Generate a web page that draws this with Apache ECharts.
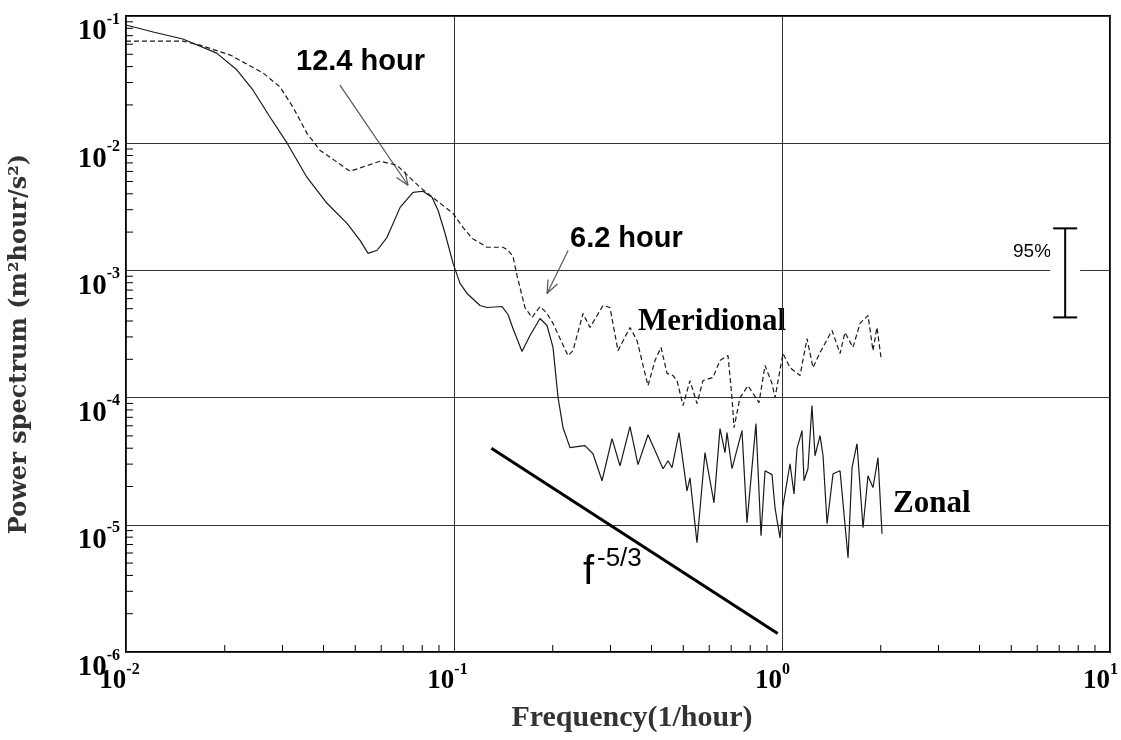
<!DOCTYPE html>
<html>
<head>
<meta charset="utf-8">
<script src="https://cdn.jsdelivr.net/npm/echarts@6/dist/echarts.min.js"></script>
<style>
  html, body { margin: 0; padding: 0; background: #fff; }
  #chart { width: 1121px; height: 740px; }
</style>
</head>
<body>
<div id="chart"></div>
<script>
// [frequency (1/hour), power (m^2 hour / s^2)]
const zonal = [
  [0.0100, 0.0850], [0.0121, 0.0748], [0.0149, 0.0659], [0.0189, 0.0511], [0.0218, 0.0376],
  [0.0244, 0.0261], [0.0275, 0.0160], [0.0310, 0.0100], [0.0356, 5.40e-3], [0.0410, 3.37e-3],
  [0.0472, 2.34e-3], [0.0517, 1.72e-3], [0.0547, 1.36e-3], [0.0583, 1.44e-3], [0.0625, 1.82e-3],
  [0.0685, 3.13e-3], [0.0750, 4.11e-3], [0.0804, 4.19e-3], [0.0857, 3.76e-3], [0.0894, 2.97e-3],
  [0.0939, 1.96e-3], [0.0993, 1.14e-3], [0.1043, 7.90e-4], [0.1096, 6.59e-4], [0.1200, 5.30e-4],
  [0.1261, 5.11e-4], [0.1401, 5.20e-4], [0.1461, 4.50e-4], [0.1513, 3.49e-4], [0.1612, 2.30e-4],
  [0.1705, 3.08e-4], [0.1829, 4.19e-4], [0.1921, 3.69e-4], [0.2004, 2.48e-4], [0.2076, 1.00e-4],
  [0.2150, 5.80e-5], [0.2258, 4.04e-5], [0.2371, 4.11e-5], [0.2508, 4.19e-5], [0.2653, 3.62e-5],
  [0.2827, 2.22e-5], [0.3032, 4.76e-5], [0.3207, 2.91e-5], [0.3440, 5.91e-5], [0.3639, 2.97e-5],
  [0.3904, 5.11e-5], [0.4338, 2.76e-5], [0.4493, 3.19e-5], [0.4620, 2.81e-5], [0.4853, 5.30e-5],
  [0.5133, 1.85e-5], [0.5242, 2.34e-5], [0.5506, 7.22e-6], [0.5824, 3.69e-5], [0.6204, 1.49e-5],
  [0.6471, 5.70e-5], [0.6703, 3.69e-5], [0.6797, 5.30e-5], [0.7040, 2.76e-5], [0.7551, 5.50e-5],
  [0.7821, 1.04e-5], [0.8330, 6.24e-5], [0.8630, 8.19e-6], [0.8876, 2.66e-5], [0.9322, 2.48e-5],
  [0.9521, 1.36e-5], [0.9861, 7.90e-6], [1.007, 1.41e-5], [1.058, 3.02e-5], [1.088, 1.75e-5],
  [1.111, 3.97e-5], [1.151, 5.50e-5], [1.167, 2.22e-5], [1.200, 2.76e-5], [1.234, 8.65e-5],
  [1.261, 3.49e-5], [1.306, 5.02e-5], [1.334, 3.49e-5], [1.372, 1.02e-5], [1.431, 2.52e-5],
  [1.503, 2.66e-5], [1.590, 5.50e-6], [1.635, 2.81e-5], [1.693, 4.34e-5], [1.766, 9.47e-6],
  [1.829, 2.43e-5], [1.894, 1.96e-5], [1.962, 3.37e-5], [2.018, 8.50e-6]
];

const meridional = [
  [0.0100, 0.0635], [0.0149, 0.0635], [0.0168, 0.0591], [0.0208, 0.0493], [0.0262, 0.0356],
  [0.0295, 0.0276], [0.0323, 0.0192], [0.0356, 0.0120], [0.0390, 8.81e-3], [0.0482, 6.02e-3],
  [0.0595, 7.22e-3], [0.0670, 6.71e-3], [0.0788, 4.50e-3], [0.0907, 3.37e-3], [0.0993, 2.81e-3],
  [0.1065, 2.18e-3], [0.1135, 1.79e-3], [0.1261, 1.52e-3], [0.1411, 1.52e-3], [0.1461, 1.44e-3],
  [0.1513, 1.29e-3], [0.1556, 9.13e-4], [0.1646, 5.11e-4], [0.1729, 4.26e-4], [0.1829, 5.20e-4],
  [0.1921, 4.59e-4], [0.2004, 3.83e-4], [0.2226, 2.14e-4], [0.2306, 2.34e-4], [0.2474, 4.59e-4],
  [0.2598, 3.56e-4], [0.2847, 5.30e-4], [0.2989, 5.11e-4], [0.3162, 2.34e-4], [0.3440, 3.56e-4],
  [0.3614, 2.81e-4], [0.3904, 1.24e-4], [0.4101, 1.96e-4], [0.4277, 2.48e-4], [0.4461, 1.55e-4],
  [0.4653, 1.49e-4], [0.4786, 1.36e-4], [0.4992, 8.65e-5], [0.5242, 1.36e-4], [0.5506, 8.97e-5],
  [0.5742, 1.36e-4], [0.6161, 1.44e-4], [0.6471, 1.96e-4], [0.6845, 2.14e-4], [0.7040, 1.00e-4],
  [0.7140, 5.80e-5], [0.7447, 1.00e-4], [0.7877, 1.24e-4], [0.8509, 9.13e-5], [0.8876, 1.79e-4],
  [0.9322, 1.29e-4], [0.9521, 1.00e-4], [1.007, 2.22e-4], [1.058, 1.72e-4], [1.135, 1.49e-4],
  [1.192, 2.91e-4], [1.243, 1.72e-4], [1.306, 2.26e-4], [1.421, 3.37e-4], [1.503, 2.22e-4],
  [1.556, 3.25e-4], [1.646, 2.48e-4], [1.729, 3.83e-4], [1.829, 4.42e-4], [1.894, 2.34e-4],
  [1.948, 3.56e-4], [2.004, 2.07e-4]
];

// reference slope f^-5/3
const slopeLine = [[0.13, 4.0e-5], [0.97, 1.4e-6]];

// 95% confidence bar: [frequency, upper, lower]
const errorBar = [[7.3, 2.14e-3, 4.27e-4]];

// annotation arrows: [f start, P start, f tip, P tip]
const arrows = [
  [0.0449, 0.0286, 0.0724, 4.67e-3],
  [0.2228, 1.435e-3, 0.1921, 6.59e-4]
];

const xMinorTicks = [0.02, 0.03, 0.04, 0.05, 0.06, 0.07, 0.08, 0.09,
  0.2, 0.3, 0.4, 0.5, 0.6, 0.7, 0.8, 0.9, 2, 3, 4, 5, 6, 7, 8, 9];
const yMinorTicks = [2e-6, 3e-6, 4e-6, 5e-6, 6e-6, 7e-6, 8e-6, 9e-6,
  2e-5, 3e-5, 4e-5, 5e-5, 6e-5, 7e-5, 8e-5, 9e-5,
  2e-4, 3e-4, 4e-4, 5e-4, 6e-4, 7e-4, 8e-4, 9e-4,
  2e-3, 3e-3, 4e-3, 5e-3, 6e-3, 7e-3, 8e-3, 9e-3,
  2e-2, 3e-2, 4e-2, 5e-2, 6e-2, 7e-2, 8e-2, 9e-2];

const serif = 'Liberation Serif';
const sans = 'Liberation Sans';

const chart = echarts.init(document.getElementById('chart'));

function expOf(v) {
  return Math.round(Math.log10(v));
}

function powerLabel(v) {
  const e = expOf(v);
  return '{b|10}' + (e < 0 ? '{n|' + e + '}' : '{p|' + e + '}');
}

const baseRich = {
  b: { fontFamily: serif, fontWeight: 'bold', fontSize: 27, color: '#000', padding: [6, 0, 0, 0], verticalAlign: 'bottom' },
  n: { fontFamily: serif, fontWeight: 'bold', fontSize: 16, color: '#000', verticalAlign: 'top' },
  p: { fontFamily: serif, fontWeight: 'bold', fontSize: 16, color: '#000', verticalAlign: 'top' }
};

const option = {
  animation: false,
  backgroundColor: '#fff',
  grid: {
    left: 126, right: 11, top: 16, bottom: 88,
    show: true, borderColor: '#000', borderWidth: 2
  },
  xAxis: {
    type: 'log', logBase: 10, min: 0.01, max: 10,
    axisLine: { show: false },
    axisTick: { show: false },
    splitLine: { show: true, lineStyle: { color: '#333', width: 1 } },
    axisLabel: {
      margin: 10,
      align: 'center',
      formatter: powerLabel,
      rich: {
        b: baseRich.b,
        n: Object.assign({}, baseRich.n, { padding: [0, 13, 0, 0] }),
        p: Object.assign({}, baseRich.p, { padding: [0, 19, 0, 0] })
      }
    },
    name: 'Frequency(1/hour)',
    nameLocation: 'middle',
    nameGap: 51,
    nameTextStyle: { fontFamily: serif, fontWeight: 'bold', fontSize: 30, color: '#333', padding: [0, 0, 0, 28] }
  },
  yAxis: {
    type: 'log', logBase: 10, min: 1e-6, max: 0.1,
    axisLine: { show: false },
    axisTick: { show: false },
    splitLine: { show: true, lineStyle: { color: '#333', width: 1 } },
    axisLabel: {
      margin: 6,
      verticalAlign: 'middle',
      padding: [26, 0, 0, 0],
      formatter: powerLabel,
      rich: {
        b: Object.assign({}, baseRich.b, { fontSize: 29 }),
        n: baseRich.n,
        p: baseRich.p
      }
    },
    name: 'Power spectrum (m²hour/s²)',
    nameLocation: 'middle',
    nameGap: 94,
    nameTextStyle: { fontFamily: 'DejaVu Serif', fontWeight: 'bold', fontSize: 24, color: '#333', padding: [0, 20, 0, 0] }
  },
  series: [
    {
      name: 'Zonal', type: 'line', data: zonal, symbol: 'none',
      lineStyle: { color: '#1a1a1a', width: 1.2 }
    },
    {
      name: 'Meridional', type: 'line', data: meridional, symbol: 'none',
      lineStyle: { color: '#1a1a1a', width: 1.2, type: [5, 3] }
    },
    {
      name: 'slope', type: 'line', data: slopeLine, symbol: 'none',
      lineStyle: { color: '#000', width: 3 }
    },
    {
      name: 'xticks', type: 'custom', silent: true,
      data: xMinorTicks.map(function (v) { return [v, 1e-6]; }),
      renderItem: function (params, api) {
        const p = api.coord([api.value(0), api.value(1)]);
        return { type: 'line', shape: { x1: p[0], y1: p[1], x2: p[0], y2: p[1] - 7 }, style: { stroke: '#000', lineWidth: 1 } };
      }
    },
    {
      name: 'yticks', type: 'custom', silent: true,
      data: yMinorTicks.map(function (v) { return [0.01, v]; }),
      renderItem: function (params, api) {
        const p = api.coord([api.value(0), api.value(1)]);
        return { type: 'line', shape: { x1: p[0], y1: p[1], x2: p[0] + 7, y2: p[1] }, style: { stroke: '#000', lineWidth: 1 } };
      }
    },
    {
      name: 'arrows', type: 'custom', silent: true,
      data: arrows,
      renderItem: function (params, api) {
        const a = api.coord([api.value(0), api.value(1)]);
        const b = api.coord([api.value(2), api.value(3)]);
        const ang = Math.atan2(a[1] - b[1], a[0] - b[0]);
        const L = 14, w = 0.38;
        const st = { stroke: '#555', lineWidth: 1.2 };
        return {
          type: 'group',
          children: [
            { type: 'line', shape: { x1: a[0], y1: a[1], x2: b[0], y2: b[1] }, style: st },
            { type: 'line', shape: { x1: b[0], y1: b[1], x2: b[0] + L * Math.cos(ang + w), y2: b[1] + L * Math.sin(ang + w) }, style: st },
            { type: 'line', shape: { x1: b[0], y1: b[1], x2: b[0] + L * Math.cos(ang - w), y2: b[1] + L * Math.sin(ang - w) }, style: st }
          ]
        };
      }
    },
    {
      name: 'errorbar', type: 'custom', silent: true,
      data: errorBar,
      renderItem: function (params, api) {
        const t = api.coord([api.value(0), api.value(1)]);
        const b = api.coord([api.value(0), api.value(2)]);
        const st = { stroke: '#000', lineWidth: 2 };
        return {
          type: 'group',
          children: [
            { type: 'rect', shape: { x: t[0] - 15, y: t[1], width: 30, height: b[1] - t[1] }, style: { fill: '#fff' } },
            { type: 'line', shape: { x1: t[0], y1: t[1], x2: b[0], y2: b[1] }, style: st },
            { type: 'line', shape: { x1: t[0] - 12, y1: t[1], x2: t[0] + 12, y2: t[1] }, style: st },
            { type: 'line', shape: { x1: b[0] - 12, y1: b[1], x2: b[0] + 12, y2: b[1] }, style: st }
          ]
        };
      }
    }
  ],
  graphic: [
    { type: 'text', left: 296, top: 47, style: { text: '12.4 hour', fontFamily: sans, fontWeight: 'bold', fontSize: 29, fill: '#000' } },
    { type: 'text', left: 570, top: 224, style: { text: '6.2 hour', fontFamily: sans, fontWeight: 'bold', fontSize: 29, fill: '#000' } },
    { type: 'text', left: 638, top: 306, style: { text: 'Meridional', fontFamily: serif, fontWeight: 'bold', fontSize: 31, fill: '#000' } },
    { type: 'text', left: 893, top: 488, style: { text: 'Zonal', fontFamily: serif, fontWeight: 'bold', fontSize: 31, fill: '#000' } },
    { type: 'text', left: 583, top: 553, style: { text: 'f', fontFamily: sans, fontSize: 40, fill: '#000' } },
    { type: 'text', left: 597, top: 546, style: { text: '-5/3', fontFamily: sans, fontSize: 26, fill: '#000' } },
    { type: 'text', left: 1013, top: 242, style: { text: '95%', fontFamily: sans, fontSize: 19, fill: '#000' } }
  ]
};

chart.setOption(option);
</script>
</body>
</html>
